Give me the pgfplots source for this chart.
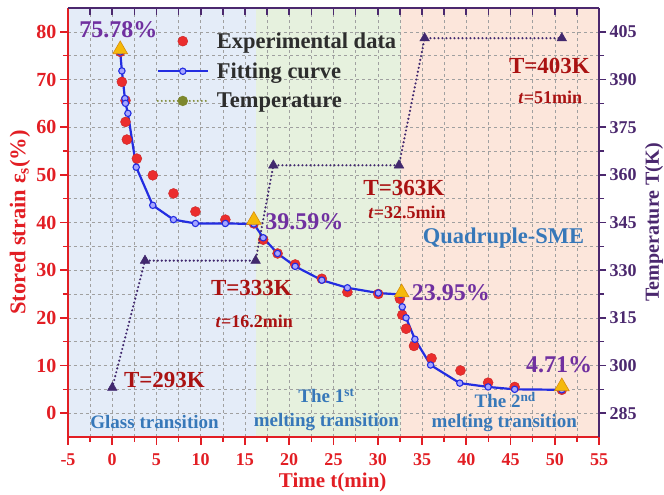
\documentclass[border=0pt]{standalone}
\usepackage{pgfplots}
\pgfplotsset{compat=1.18}
\usepackage{fontspec}
\setmainfont{Liberation Serif}
\usetikzlibrary{calc}
\definecolor{axred}{RGB}{226,30,36}
\definecolor{axpurp}{RGB}{75,40,110}
\definecolor{lblpurp}{RGB}{112,48,160}
\definecolor{tred}{RGB}{170,18,18}
\definecolor{tblue}{RGB}{55,120,185}
\definecolor{fitblue}{RGB}{35,45,225}
\definecolor{bgblue}{RGB}{228,236,248}
\definecolor{bggreen}{RGB}{230,241,222}
\definecolor{bgpink}{RGB}{252,230,219}
\definecolor{gold}{RGB}{245,185,10}
\definecolor{golddk}{RGB}{215,140,10}
\definecolor{tempc}{RGB}{65,40,110}
\definecolor{olive}{RGB}{125,135,45}
\definecolor{legtext}{RGB}{45,45,45}
\definecolor{gridc}{RGB}{160,160,160}
\definecolor{ballred}{RGB}{235,45,45}
\pgfplotsset{
  common/.style={width=531pt, height=429pt, scale only axis, xmin=-5, xmax=55},
}
\begin{document}
\begin{tikzpicture}
% ---------- backgrounds ----------
\begin{axis}[common, ymin=-5, ymax=85, hide axis]
\addplot[fill=bgblue, draw=none] coordinates {(-5,-5) (16.2,-5) (16.2,85) (-5,85)} -- cycle;
\addplot[fill=bggreen, draw=none] coordinates {(16.2,-5) (32.6,-5) (32.6,85) (16.2,85)} -- cycle;
\addplot[fill=bgpink, draw=none] coordinates {(32.6,-5) (55,-5) (55,85) (32.6,85)} -- cycle;
\end{axis}
% ---------- main axis (strain) ----------
\begin{axis}[common, ymin=-5, ymax=85,
  axis x line*=bottom, axis y line*=left,
  axis line style={axred, line width=2.2pt},
  xtick={-5,0,...,55}, minor xtick={-2.5,2.5,...,52.5},
  ytick={0,10,...,80}, minor ytick={5,15,...,75},
  grid=both,
  major grid style={gridc, dashed, line width=0.5pt},
  minor grid style={gridc, dashed, line width=0.5pt},
  tick align=outside,
  major tick length=8pt, minor tick length=5pt,
  tick style={axred, line width=1.6pt},
  /pgf/number format/assume math mode=true,
  xticklabel style={font=\fontsize{18}{18}\selectfont\bfseries, text=axred, yshift=-5pt},
  yticklabel style={font=\fontsize{20}{20}\selectfont\bfseries, text=axred},
  xlabel={Time t(min)},
  xlabel style={at={(axis description cs:0.4985,-0.107)}, anchor=center,
    font=\fontsize{21}{21}\selectfont\bfseries, text=axred},
  ylabel={Stored strain ε\textsubscript{s}(\%)},
  ylabel style={at={(axis description cs:-0.0904,0.5)}, anchor=center,
    font=\fontsize{22.5}{22.5}\selectfont\bfseries, text=axred},
  legend style={draw=none, fill=none, at={(axis cs:5.0,80.3)}, anchor=north west,
    font=\fontsize{22.5}{24}\selectfont\bfseries, text=legtext, row sep=9pt,
    inner sep=0pt, cells={anchor=west},
    /tikz/every odd column/.append style={column sep=6pt}},
  legend cell align=left,
  legend image code/.code={
    \draw[mark repeat=2,mark phase=2,#1] plot coordinates {(0pt,0pt) (25pt,0pt) (50pt,0pt)};
  },
]
\coordinate (SW) at (rel axis cs:0,0);
\coordinate (NE) at (rel axis cs:1,1);
% experimental data
\addplot[only marks, mark=*, mark size=5pt, mark options={fill=ballred, draw=ballred!85!black, line width=0.4pt}] coordinates {
(0.9,75.8) (1.09,69.5) (1.5,65.6) (1.5,61.1) (1.65,57.4) (2.78,53.4) (4.58,49.9)
(6.92,46.1) (9.4,42.3) (12.78,40.6) (16.0,39.8) (17.06,36.4) (18.68,33.5)
(20.67,31.2) (23.68,28.2) (26.57,25.4) (30.06,25.0) (32.5,24.0) (32.77,20.6)
(33.2,17.7) (34.09,14.1) (36.08,11.5) (39.35,8.95) (42.47,6.4) (45.47,5.5) (50.8,4.9)};
\addlegendentry{Experimental data}
% fitting curve
\addplot[fitblue, line width=2.2pt, mark=*, mark size=3.2pt,
  mark options={fill=blue!35!white, draw=fitblue, line width=1.1pt}] coordinates {
(0.9,75.78) (1.09,71.8) (1.43,66.0) (1.5,65.0) (1.77,62.9) (2.71,51.6) (4.58,43.6)
(6.92,40.6) (9.4,39.8) (12.78,39.8) (16.0,39.7) (17.06,36.8) (18.68,33.5)
(20.67,30.8) (23.68,27.9) (26.57,26.3) (30.06,25.2) (32.6,24.9) (32.77,22.3)
(33.2,20.0) (34.2,15.5) (35.97,10.1) (39.27,6.3) (42.47,5.5) (45.47,5.0) (50.8,4.9)};
\addlegendentry{Fitting curve}
\addlegendimage{olive, line width=2.2pt, dash pattern=on 0pt off 4pt, line cap=round,
  mark=*, mark size=4pt, mark options={solid, fill=olive}}
\addlegendentry{Temperature}
% key triangles
\addplot[forget plot, only marks, mark=triangle*, mark size=8.5pt,
  mark options={fill=gold, draw=golddk, line width=0.6pt}] coordinates {
(0.9,76.3) (16.0,40.5) (32.7,25.3) (50.8,5.6)};
% annotations
\begin{scope}[font=\fontsize{24}{24}\selectfont\bfseries, text=lblpurp]
\node at (axis cs:0.7,80.5) {75.78\%};
\node at (axis cs:21.7,40.2) {39.59\%};
\node at (axis cs:38.25,25.3) {23.95\%};
\node at (axis cs:50.5,10.2) {4.71\%};
\end{scope}
\begin{scope}[font=\fontsize{23}{23}\selectfont\bfseries, text=tred]
\node at (axis cs:5.9,7.0) {T=293K};
\node at (axis cs:15.73,26.3) {T=333K};
\node at (axis cs:32.95,47.3) {T=363K};
\node at (axis cs:49.4,72.8) {T=403K};
\end{scope}
\begin{scope}[font=\fontsize{18}{18}\selectfont\bfseries, text=tred]
\node at (axis cs:16.05,19.2) {\textit{t}=16.2min};
\node at (axis cs:33.3,42.1) {\textit{t}=32.5min};
\node at (axis cs:49.5,66.2) {\textit{t}=51min};
\end{scope}
\node[font=\fontsize{22.5}{22.5}\selectfont\bfseries, text=tblue] at (axis cs:44.2,36.8) {Quadruple-SME};
\begin{scope}[font=\fontsize{19}{19}\selectfont\bfseries, text=tblue]
\node at (axis cs:4.78,-1.8) {Glass transition};
\node at (axis cs:24.2,3.65) {The 1\textsuperscript{st}};
\node at (axis cs:24.2,-1.8) {melting transition};
\node at (axis cs:44.4,2.8) {The 2\textsuperscript{nd}};
\node at (axis cs:44.3,-2.0) {melting transition};
\end{scope}
\end{axis}
% ---------- right axis (temperature) ----------
\begin{axis}[common, ymin=277.5, ymax=412.5,
  axis x line*=top, axis y line*=right,
  axis line style={axpurp, line width=2.2pt},
  xtick={-2.5,0,...,52.5}, xticklabel=\empty,
  ytick={285,300,...,405}, minor ytick={292.5,307.5,...,397.5},
  tick align=outside,
  major tick length=7pt, minor tick length=5pt,
  tick style={axpurp, line width=1.6pt},
  xtick style={yshift=-7pt},
  /pgf/number format/assume math mode=true,
  yticklabel style={font=\fontsize{18}{18}\selectfont\bfseries, text=axpurp},
  ylabel={Temperature T(K)},
  ylabel style={at={(axis description cs:1.1036,0.5)}, anchor=center,
    font=\fontsize{20}{20}\selectfont\bfseries, text=axpurp},
]
\addplot[tempc, line width=2.4pt, dash pattern=on 0pt off 4pt, line cap=round,
  mark=triangle*, mark size=5.5pt, mark options={solid, fill=tempc, draw=tempc, line width=0.5pt}]
  coordinates {(0,293) (3.7,333) (16.2,333) (18.2,363) (32.4,363) (35.3,403) (50.8,403)};
\end{axis}
\pgfresetboundingbox
\path ($(SW)+(-68pt,-58pt)$) rectangle ($(NE)+(65pt,8pt)$);
\end{tikzpicture}
\end{document}
